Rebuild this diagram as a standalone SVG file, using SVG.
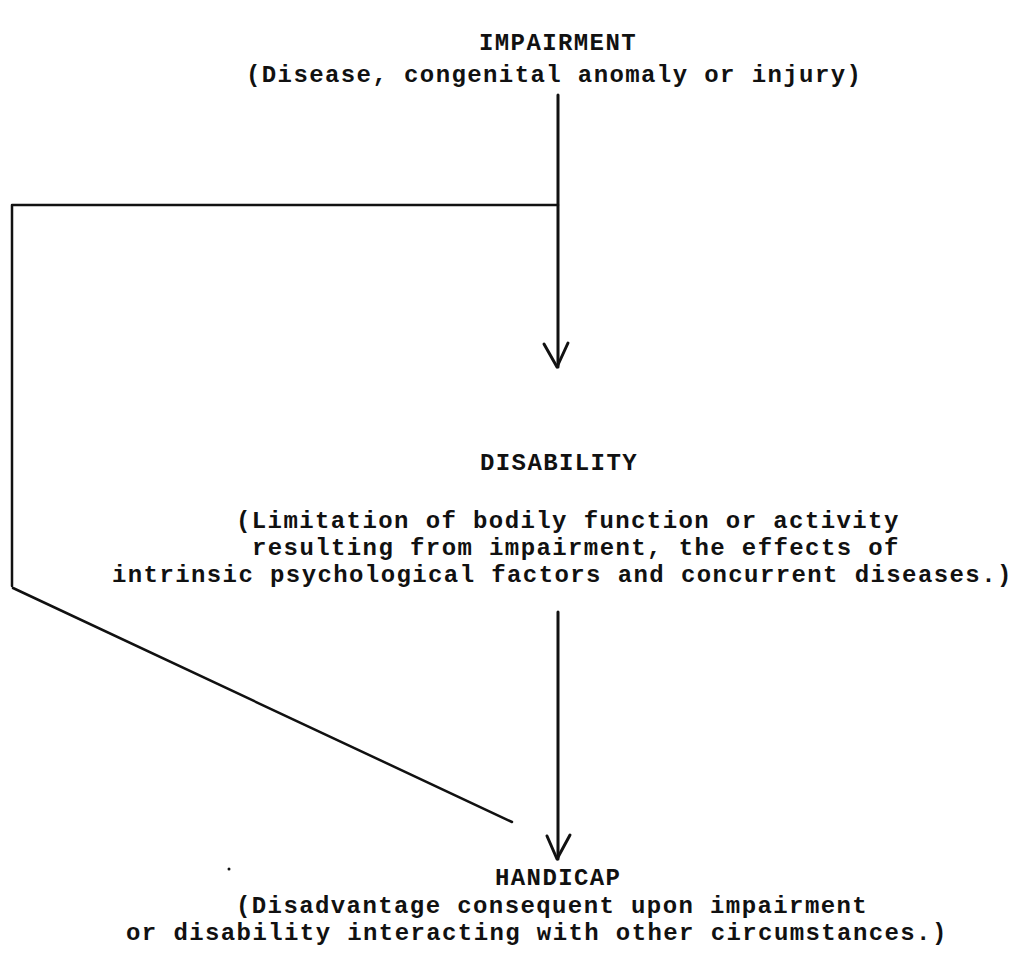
<svg xmlns="http://www.w3.org/2000/svg" width="1029" height="961" viewBox="0 0 1029 961">
<style>
.t{font-family:"Liberation Mono","DejaVu Sans Mono",monospace;font-size:24px;letter-spacing:1.4px;font-weight:bold;fill:#111}
.ln{stroke:#111;stroke-width:2.5;fill:none;stroke-linecap:round;stroke-linejoin:round}
.ar{stroke:#111;stroke-width:3;fill:none;stroke-linecap:round;stroke-linejoin:round}
</style>
<rect width="1029" height="961" fill="#fff"/>
<g id="impairment">
<text class="t" x="479" y="50">IMPAIRMENT</text>
<text class="t" x="246" y="82">(Disease, congenital anomaly or injury)</text>
</g>
<g id="disability">
<text class="t" x="480" y="470">DISABILITY</text>
<text class="t" x="236" y="528">(Limitation of bodily function or activity</text>
<text class="t" x="252" y="555">resulting from impairment, the effects of</text>
<text class="t" x="112" y="582">intrinsic psychological factors and concurrent diseases.)</text>
</g>
<g id="handicap">
<text class="t" x="495" y="885">HANDICAP</text>
<text class="t" x="236" y="913">(Disadvantage consequent upon impairment</text>
<text class="t" x="126" y="940">or disability interacting with other circumstances.)</text>
</g>
<g id="connectors">
<path class="ar" d="M558,95 V367"/>
<path class="ar" d="M544,344 L557,367 L568,343"/>
<path class="ln" d="M558,205 H12 V586"/>
<path class="ln" d="M13,588 L512,822"/>
<path class="ar" d="M558,612 V859"/>
<path class="ar" d="M547,836 L557,859 L570,835"/>
<circle cx="229" cy="869" r="1.5" fill="#111"/>
</g>
</svg>
